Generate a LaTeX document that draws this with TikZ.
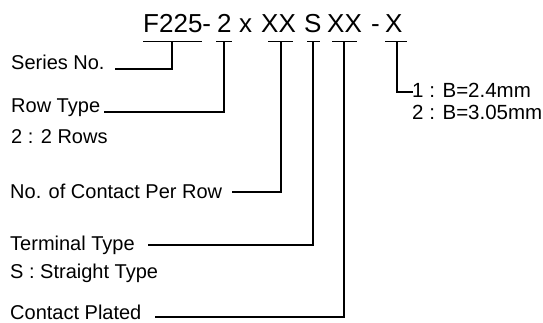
\documentclass[tikz,border=0pt]{standalone}
\usepackage{fontspec}
\setmainfont{Liberation Sans}
\usetikzlibrary{positioning}
\tikzset{
	code/.style={
		inner sep=0pt,
		anchor=base west,
		font=\fontsize{26}{30}\selectfont
	},
	desc/.style={
		inner sep=0pt,
		anchor=base west,
		font=\fontsize{20}{24}\selectfont
	},
	opt/.style={
		desc,
		font=\fontsize{20.5}{24}\selectfont
	},
	lead/.style={
		line width=1.2pt
	}
}
\begin{document}
\begin{tikzpicture}[x=1pt,y=-1pt]
		\useasboundingbox (0,0) rectangle (543,323);
		% part number
		\node [code] (cseries) at (143,33) {F225-};
		\node [code] (crow) at (217,33) {2};
		\node [code] (cx) at (239,33) {x};
		\node [code] (ccontact) at (261,33) {XX};
		\node [code] (cterm) at (304,33) {S};
		\node [code] (cplated) at (327,33) {XX};
		\node [code] (cdash) at (371,33) {-};
		\node [code] (cb) at (385,33) {X};
		% underlines
		\draw [lead] (143,41.5) -- (202,41.5);
		\draw [lead] (216,41.5) -- (232,41.5);
		\draw [lead] (268,41.5) -- (293,41.5);
		\draw [lead] (307,41.5) -- (320,41.5);
		\draw [lead] (332,41.5) -- (357,41.5);
		\draw [lead] (385,41.5) -- (407,41.5);
		\coordinate (useries) at (172,41.5);
		\coordinate (urow) at (224,41.5);
		\coordinate (ucontact) at (281,41.5);
		\coordinate (uterm) at (313,41.5);
		\coordinate (uplated) at (344,41.5);
		\coordinate (ub) at (397,41.5);
		% descriptions
		\node [desc] (lseries) at (11,70) {Series No.};
		\node [desc] (lrow) at (11,113) {Row Type};
		\node [desc] (lrows) at (11,144) {2 : 2 Rows};
		\node [desc] (lcontact) at (10,199) {No. of Contact Per Row};
		\node [desc] (lterm) at (10,250) {Terminal Type};
		\node [desc] (lstraight) at (10,278) {S : Straight Type};
		\node [desc] (lplated) at (10,319) {Contact Plated};
		\node [opt] (lb1) at (412,98) {1 : B=2.4mm};
		\node [opt] (lb2) at (412,120) {2 : B=3.05mm};
		% leads
		\draw [lead] (useries) |- ([xshift=10pt,yshift=1pt]lseries.base east);
		\draw [lead] (urow) |- ([xshift=4pt,yshift=1pt]lrow.base east);
		\draw [lead] (ucontact) |- ([xshift=10pt,yshift=7pt]lcontact.base east);
		\draw [lead] (uterm) |- ([xshift=13pt,yshift=5pt]lterm.base east);
		\draw [lead] (uplated) |- ([xshift=13pt,yshift=2pt]lplated.base east);
		\draw [lead] (ub) |- ([xshift=1pt,yshift=6pt]lb1.base west);
\end{tikzpicture}
\end{document}
